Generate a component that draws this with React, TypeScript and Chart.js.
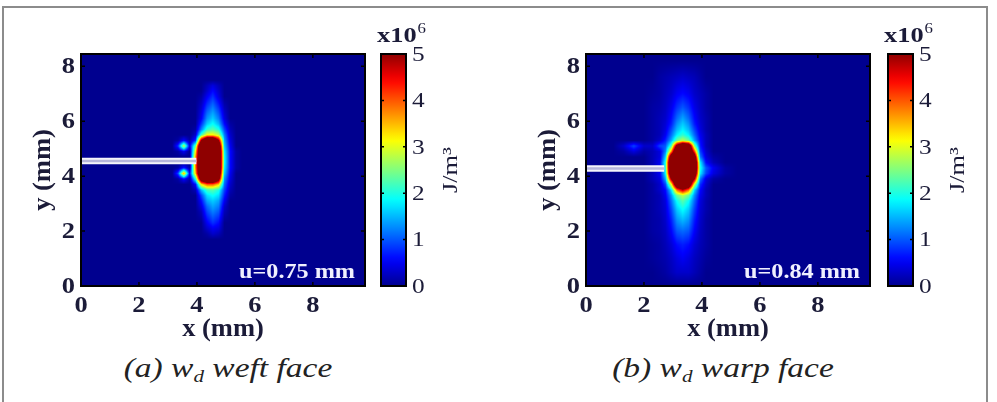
import React, { useEffect, useRef } from "react";
import { Chart, registerables } from "chart.js";

Chart.register(...registerables);

const SERIF = "'Liberation Serif', 'Times New Roman', serif";
const INK = "#1b1b38";

// Axis extents (mm) and tick values
const X_MAX = 9.8;
const Y_MAX = 8.45;
const xTicks = [0, 2, 4, 6, 8];
const yTicks = [0, 2, 4, 6, 8];
const xTitle = "x (mm)";
const yTitle = "y (mm)";
// Colour bar, in units of 1e6 J/m^3
const CBAR_MAX = 5;
const cbarTicks = [0, 1, 2, 3, 4, 5];
const cbarUnit = "J/m\u00b3";

// ---- (a) weft face: damage energy density w_d (x1e6 J/m^3) on a local grid ----
const weftGridX = [3.35, 3.55, 3.75, 3.95, 4.15, 4.35, 4.55, 4.75, 4.95, 5.15, 5.35, 5.55];
const weftGridY = [7.3, 7.1, 6.9, 6.7, 6.5, 6.3, 6.1, 5.9, 5.7, 5.5, 5.3, 5.1, 4.9, 4.7, 4.5, 4.3, 4.1, 3.9, 3.7, 3.5, 3.3, 3.1, 2.9, 2.7, 2.5, 2.3, 2.1, 1.9];
const weftEnergy = [
  [0, 0, 0, 0, 0, 0.2, 0.4, 0.2, 0, 0, 0, 0],
  [0, 0, 0, 0, 0, 0.3, 0.6, 0.3, 0, 0, 0, 0],
  [0, 0, 0, 0, 0.1, 0.5, 0.8, 0.4, 0, 0, 0, 0],
  [0, 0, 0, 0, 0.2, 0.7, 1.0, 0.6, 0.1, 0, 0, 0],
  [0, 0, 0, 0, 0.3, 0.9, 1.2, 0.8, 0.2, 0, 0, 0],
  [0, 0, 0, 0, 0.4, 1.1, 1.4, 1.0, 0.3, 0, 0, 0],
  [0, 0, 0, 0, 0.5, 1.3, 1.6, 1.2, 0.4, 0, 0, 0],
  [0, 0, 0, 0, 0.8, 1.6, 1.9, 1.5, 0.6, 0.1, 0, 0],
  [0, 0, 0, 0.1, 1.2, 2.1, 2.3, 2.0, 0.9, 0.2, 0, 0],
  [0, 0, 0, 0.3, 2.2, 3.2, 3.2, 2.8, 1.2, 0.3, 0, 0],
  [0.1, 0.6, 0.1, 0.8, 5.0, 7, 7, 5.0, 1.4, 0.4, 0, 0],
  [0.8, 2.9, 0.4, 2.4, 7, 7, 7, 6.5, 1.6, 0.5, 0, 0],
  [0.1, 0.5, 0, 3.2, 7, 7, 7, 7, 1.8, 0.6, 0.1, 0],
  [0, 0, 0, 3.6, 7, 7, 7, 7, 1.9, 0.6, 0.1, 0],
  [0, 0, 0, 3.8, 7, 7, 7, 7, 1.9, 0.6, 0.1, 0],
  [0.1, 0.7, 0.1, 3.7, 7, 7, 7, 7, 1.8, 0.6, 0.1, 0],
  [0.9, 3.6, 0.5, 3.4, 7, 7, 7, 6.5, 1.6, 0.5, 0, 0],
  [0.1, 0.6, 0.1, 2.0, 6.0, 7, 7, 5.5, 1.3, 0.4, 0, 0],
  [0, 0, 0, 0.6, 3.2, 4.0, 4.0, 3.4, 1.1, 0.3, 0, 0],
  [0, 0, 0, 0.2, 1.5, 2.2, 2.3, 2.0, 0.9, 0.2, 0, 0],
  [0, 0, 0, 0, 0.9, 1.7, 1.9, 1.7, 0.7, 0.1, 0, 0],
  [0, 0, 0, 0, 0.6, 1.4, 1.6, 1.4, 0.5, 0, 0, 0],
  [0, 0, 0, 0, 0.4, 1.1, 1.4, 1.2, 0.3, 0, 0, 0],
  [0, 0, 0, 0, 0.2, 0.9, 1.2, 1.0, 0.2, 0, 0, 0],
  [0, 0, 0, 0, 0.1, 0.7, 1.0, 0.8, 0.1, 0, 0, 0],
  [0, 0, 0, 0, 0, 0.5, 0.8, 0.6, 0, 0, 0, 0],
  [0, 0, 0, 0, 0, 0.3, 0.5, 0.4, 0, 0, 0, 0],
  [0, 0, 0, 0, 0, 0.1, 0.3, 0.2, 0, 0, 0, 0],
];
const weftCrackX = [0, 3.98];
const weftCrackY = [4.55, 4.55];
const weftDisplacement = "u=0.75 mm";

// ---- (b) warp face ----
const warpGridX = [1.3, 1.65, 2.0, 2.3, 2.55, 2.74, 2.94, 3.14, 3.34, 3.54, 3.74, 3.94, 4.14, 4.4, 4.8];
const warpGridY = [7.6, 7.0, 6.5, 6.1, 5.9, 5.7, 5.5, 5.3, 5.1, 4.9, 4.7, 4.5, 4.3, 4.1, 3.9, 3.7, 3.5, 3.3, 3.1, 2.8, 2.4, 2.0, 1.5, 1.0, 0.5];
const warpEnergy = [
  [0, 0, 0, 0, 0.1, 0.15, 0.2, 0.25, 0.3, 0.25, 0.2, 0.1, 0, 0, 0],
  [0, 0, 0, 0.05, 0.1, 0.2, 0.3, 0.5, 0.6, 0.5, 0.3, 0.2, 0.1, 0, 0],
  [0, 0, 0, 0.1, 0.15, 0.25, 0.45, 0.8, 1.0, 0.8, 0.45, 0.25, 0.1, 0, 0],
  [0, 0, 0, 0.1, 0.2, 0.3, 0.6, 1.1, 1.4, 1.1, 0.6, 0.3, 0.15, 0, 0],
  [0, 0, 0, 0.1, 0.2, 0.35, 0.7, 1.3, 1.6, 1.3, 0.7, 0.35, 0.15, 0, 0],
  [0, 0, 0, 0.1, 0.2, 0.4, 0.9, 1.5, 1.8, 1.5, 0.9, 0.4, 0.15, 0, 0],
  [0, 0, 0, 0.1, 0.2, 0.5, 1.1, 1.8, 2.1, 1.8, 1.1, 0.5, 0.2, 0, 0],
  [0, 0, 0, 0.1, 0.3, 0.7, 1.4, 2.4, 2.8, 2.4, 1.4, 0.6, 0.2, 0, 0],
  [0.3, 0.9, 0.3, 0.3, 0.9, 1.0, 2.2, 5.5, 7, 6.5, 2.6, 0.7, 0.2, 0, 0],
  [0.1, 0.4, 0.1, 0.2, 0.4, 1.2, 3.6, 7, 7, 7, 4.2, 0.9, 0.3, 0, 0],
  [0, 0, 0, 0.2, 0.4, 1.6, 6, 7, 7, 7, 6, 1.2, 0.4, 0.1, 0],
  [0, 0, 0, 0.2, 0.5, 2.0, 7, 7, 7, 7, 7, 1.8, 0.6, 0.2, 0],
  [0, 0, 0, 0.2, 0.5, 2.0, 7, 7, 7, 7, 7, 2.0, 1.0, 0.5, 0.1],
  [0, 0, 0, 0.2, 0.5, 1.8, 6.5, 7, 7, 7, 6.5, 1.8, 0.9, 0.4, 0.1],
  [0, 0, 0, 0.2, 0.4, 1.4, 5, 7, 7, 7, 5, 1.2, 0.4, 0.1, 0],
  [0, 0, 0, 0.1, 0.3, 0.9, 3.0, 6.5, 7, 6.5, 3.0, 0.8, 0.3, 0, 0],
  [0, 0, 0, 0.1, 0.3, 0.6, 1.7, 3.9, 4.8, 3.9, 1.7, 0.6, 0.2, 0, 0],
  [0, 0, 0, 0.1, 0.2, 0.5, 1.3, 2.4, 2.8, 2.4, 1.3, 0.5, 0.2, 0, 0],
  [0, 0, 0, 0.1, 0.2, 0.4, 1.1, 1.9, 2.3, 1.9, 1.1, 0.4, 0.15, 0, 0],
  [0, 0, 0, 0.1, 0.2, 0.35, 0.9, 1.6, 1.9, 1.6, 0.9, 0.35, 0.15, 0, 0],
  [0, 0, 0, 0.1, 0.15, 0.3, 0.7, 1.3, 1.5, 1.3, 0.7, 0.3, 0.1, 0, 0],
  [0, 0, 0, 0.1, 0.15, 0.25, 0.55, 1.0, 1.1, 1.0, 0.55, 0.25, 0.1, 0, 0],
  [0, 0, 0, 0.05, 0.1, 0.2, 0.35, 0.6, 0.7, 0.6, 0.35, 0.2, 0.1, 0, 0],
  [0, 0, 0, 0.05, 0.1, 0.15, 0.25, 0.4, 0.5, 0.4, 0.25, 0.15, 0.05, 0, 0],
  [0, 0, 0, 0, 0.05, 0.1, 0.2, 0.3, 0.3, 0.3, 0.2, 0.1, 0, 0, 0],
];
const warpCrackX = [0, 2.7];
const warpCrackY = [4.28, 4.28];
const warpDisplacement = "u=0.84 mm";

type Field = { xs: number[]; ys: number[]; values: number[][] };

// MATLAB-style jet colormap, t in [0, 1]
function jet(t: number): [number, number, number] {
  const s = 0.0156 + Math.min(1, Math.max(0, t)) * 0.969;
  const c = (k: number) =>
    Math.round(255 * Math.min(1, Math.max(0, 1.5 - Math.abs(4 * s - k))));
  return [c(3), c(2), c(1)];
}

// Grid axis with one zero-valued node added on each side
function padAxis(a: number[]): number[] {
  const n = a.length;
  return [a[0] - (a[1] - a[0]), ...a, a[n - 1] + (a[n - 1] - a[n - 2])];
}

function locate(a: number[], v: number): [number, number] | null {
  for (let i = 0; i < a.length - 1; i++) {
    const lo = Math.min(a[i], a[i + 1]);
    const hi = Math.max(a[i], a[i + 1]);
    if (v >= lo && v <= hi) return [i, (v - a[i]) / (a[i + 1] - a[i])];
  }
  return null;
}

// Text drawn with a slight horizontal stretch
function stretchText(
  ctx: CanvasRenderingContext2D,
  text: string,
  x: number,
  y: number,
  font: string,
  align: CanvasTextAlign,
  baseline: CanvasTextBaseline,
  sx: number,
  rotate = 0
) {
  ctx.save();
  ctx.translate(x, y);
  if (rotate) ctx.rotate(rotate);
  ctx.scale(sx, 1);
  ctx.font = font;
  ctx.textAlign = align;
  ctx.textBaseline = baseline;
  ctx.fillText(text, 0, 0);
  ctx.restore();
}

// Draws the field with interpolated shading inside the plot area
function makeHeatPlugin(field: Field) {
  return {
    id: "heat",
    beforeDatasetsDraw(chart: any) {
      const { ctx, chartArea, scales } = chart;
      const xs = padAxis(field.xs);
      const ys = padAxis(field.ys);
      const zeroRow = new Array(xs.length).fill(0);
      const grid = [zeroRow, ...field.values.map((r) => [0, ...r, 0]), zeroRow];
      const x0 = Math.round(chartArea.left);
      const y0 = Math.round(chartArea.top);
      const w = Math.round(chartArea.right) - x0;
      const h = Math.round(chartArea.bottom) - y0;
      const img = ctx.createImageData(w, h);
      const cols = [];
      for (let i = 0; i < w; i++) cols.push(locate(xs, scales.x.getValueForPixel(x0 + i + 0.5)));
      for (let j = 0; j < h; j++) {
        const r = locate(ys, scales.y.getValueForPixel(y0 + j + 0.5));
        for (let i = 0; i < w; i++) {
          const c = cols[i];
          let v = 0;
          if (r && c) {
            const [ri, rf] = r;
            const [ci, cf] = c;
            const a = grid[ri][ci] * (1 - cf) + grid[ri][ci + 1] * cf;
            const b = grid[ri + 1][ci] * (1 - cf) + grid[ri + 1][ci + 1] * cf;
            v = a * (1 - rf) + b * rf;
          }
          const [R, G, B] = jet(v / CBAR_MAX);
          const k = (j * w + i) * 4;
          img.data[k] = R;
          img.data[k + 1] = G;
          img.data[k + 2] = B;
          img.data[k + 3] = 255;
        }
      }
      const off = document.createElement("canvas");
      off.width = w;
      off.height = h;
      off.getContext("2d")!.putImageData(img, 0, 0);
      ctx.drawImage(off, x0, y0);
    },
  };
}

const TICK_FONT = `bold 23px ${SERIF}`;
const TITLE_FONT = `bold 26px ${SERIF}`;

// Plot frame, inward ticks, axis labels and the displacement note
function makeFramePlugin(note: string) {
  return {
    id: "frame",
    afterDatasetsDraw(chart: any) {
      const { ctx, chartArea: a, scales } = chart;
      ctx.save();
      ctx.fillStyle = "#f0f0ff";
      stretchText(ctx, note, a.right - 10, a.bottom - 8, `bold 22px ${SERIF}`, "right", "alphabetic", 1.1);
      ctx.strokeStyle = "#000";
      ctx.lineWidth = 1.5;
      ctx.beginPath();
      for (const v of xTicks) {
        const p = scales.x.getPixelForValue(v);
        ctx.moveTo(p, a.bottom);
        ctx.lineTo(p, a.bottom - 4);
        ctx.moveTo(p, a.top);
        ctx.lineTo(p, a.top + 4);
      }
      for (const v of yTicks) {
        const p = scales.y.getPixelForValue(v);
        ctx.moveTo(a.left, p);
        ctx.lineTo(a.left + 4, p);
        ctx.moveTo(a.right, p);
        ctx.lineTo(a.right - 4, p);
      }
      ctx.stroke();
      ctx.lineWidth = 2;
      ctx.strokeRect(a.left, a.top, a.right - a.left, a.bottom - a.top);
      ctx.restore();
    },
    afterDraw(chart: any) {
      const { ctx, chartArea: a, scales } = chart;
      ctx.save();
      ctx.fillStyle = INK;
      for (const v of xTicks) {
        stretchText(ctx, String(v), scales.x.getPixelForValue(v), a.bottom + 26, TICK_FONT, "center", "alphabetic", 1.15);
      }
      for (const v of yTicks) {
        stretchText(ctx, String(v), a.left - 6, scales.y.getPixelForValue(v) + 1, TICK_FONT, "right", "middle", 1.15);
      }
      stretchText(ctx, xTitle, (a.left + a.right) / 2, a.bottom + 50, TITLE_FONT, "center", "alphabetic", 1.02);
      stretchText(ctx, yTitle, a.left - 38, (a.top + a.bottom) / 2, TITLE_FONT, "center", "middle", 1.02, -Math.PI / 2);
      ctx.restore();
    },
  };
}

const cbarPlugin = {
  id: "cbarFrame",
  afterDatasetsDraw(chart: any) {
    const { ctx, chartArea: a, scales } = chart;
    ctx.save();
    ctx.strokeStyle = "#000";
    ctx.lineWidth = 1.5;
    ctx.beginPath();
    for (const v of cbarTicks.slice(1, -1)) {
      const p = scales.y.getPixelForValue(v);
      ctx.moveTo(a.left, p);
      ctx.lineTo(a.left + 3, p);
      ctx.moveTo(a.right, p);
      ctx.lineTo(a.right - 3, p);
    }
    ctx.stroke();
    ctx.lineWidth = 2;
    ctx.strokeRect(a.left, a.top, a.right - a.left, a.bottom - a.top);
    ctx.restore();
  },
  afterDraw(chart: any) {
    const { ctx, chartArea: a, scales } = chart;
    ctx.save();
    ctx.fillStyle = INK;
    for (const v of cbarTicks) {
      stretchText(ctx, String(v), a.right + 6, scales.y.getPixelForValue(v) + 1, `22px ${SERIF}`, "left", "middle", 1.15);
    }
    // scale factor above the bar
    const f = `bold 22px ${SERIF}`;
    ctx.font = f;
    const wx = ctx.measureText("x10").width * 1.2;
    stretchText(ctx, "x10", a.left - 4, a.top - 12, f, "left", "alphabetic", 1.2);
    stretchText(ctx, "6", a.left - 4 + wx + 1, a.top - 21, `14px ${SERIF}`, "left", "alphabetic", 1.2);
    // unit label, reading upwards
    stretchText(ctx, cbarUnit, a.right + 45, (a.top + a.bottom) / 2, `22px ${SERIF}`, "center", "middle", 1.2, -Math.PI / 2);
    ctx.restore();
  },
};

type PanelProps = {
  plotLeft: number;
  cbarLeft: number;
  captionX: number;
  field: Field;
  crackX: number[];
  crackY: number[];
  note: string;
  tag: string;
  face: string;
};

function Panel(p: PanelProps) {
  const mainRef = useRef<HTMLCanvasElement>(null);
  const barRef = useRef<HTMLCanvasElement>(null);

  useEffect(() => {
    const crack = p.crackX.map((x, i) => ({ x, y: p.crackY[i] }));
    const main = new Chart(mainRef.current!, {
      type: "scatter",
      data: {
        datasets: [
          { data: crack, order: 1, showLine: true, borderColor: "#b6b6dc", borderWidth: 2.5, pointRadius: 0, borderCapStyle: "butt" },
          { data: crack, order: 2, showLine: true, borderColor: "#f4f4fb", borderWidth: 6.5, pointRadius: 0, borderCapStyle: "butt" },
        ],
      },
      options: {
        responsive: false,
        animation: false,
        devicePixelRatio: 1,
        events: [],
        layout: { padding: { left: 0, top: 14, right: 15, bottom: 0 } },
        plugins: { legend: { display: false }, tooltip: { enabled: false } },
        scales: {
          x: {
            type: "linear",
            min: 0,
            max: X_MAX,
            afterBuildTicks: (s: any) => {
              s.ticks = xTicks.map((value) => ({ value }));
            },
            ticks: { display: false },
            grid: { display: false, drawTicks: false },
            border: { display: false },
            afterFit: (s: any) => {
              s.height = 64;
            },
          },
          y: {
            type: "linear",
            min: 0,
            max: Y_MAX,
            afterBuildTicks: (s: any) => {
              s.ticks = yTicks.map((value) => ({ value }));
            },
            ticks: { display: false },
            grid: { display: false, drawTicks: false },
            border: { display: false },
            afterFit: (s: any) => {
              s.width = 61;
            },
          },
        },
      },
      plugins: [makeHeatPlugin(p.field), makeFramePlugin(p.note)],
    } as any);

    const stops = Array.from({ length: 33 }, (_, i) => i / 32);
    const bar = new Chart(barRef.current!, {
      type: "bar",
      data: {
        labels: [""],
        datasets: [
          {
            data: [[0, CBAR_MAX]],
            barPercentage: 1,
            categoryPercentage: 1,
            borderWidth: 0,
            backgroundColor: (c: any) => {
              const a = c.chart.chartArea;
              if (!a) return "#00008f";
              const g = c.chart.ctx.createLinearGradient(0, a.bottom, 0, a.top);
              for (const t of stops) {
                const [r, gg, b] = jet(t);
                g.addColorStop(t, `rgb(${r},${gg},${b})`);
              }
              return g;
            },
          },
        ],
      },
      options: {
        responsive: false,
        animation: false,
        devicePixelRatio: 1,
        events: [],
        layout: { padding: { left: 10, top: 34, right: 0, bottom: 14 } },
        plugins: { legend: { display: false }, tooltip: { enabled: false } },
        scales: {
          x: { display: false },
          y: {
            position: "right",
            min: 0,
            max: CBAR_MAX,
            afterBuildTicks: (s: any) => {
              s.ticks = cbarTicks.map((value) => ({ value }));
            },
            ticks: { display: false },
            grid: { display: false, drawTicks: false },
            border: { display: false },
            afterFit: (s: any) => {
              s.width = 65;
            },
          },
        },
      },
      plugins: [cbarPlugin],
    } as any);

    return () => {
      main.destroy();
      bar.destroy();
    };
  }, []);

  return (
    <>
      <canvas
        ref={mainRef}
        width={360}
        height={310}
        style={{ position: "absolute", left: p.plotLeft - 61, top: 40, width: 360, height: 310 }}
      />
      <canvas
        ref={barRef}
        width={100}
        height={280}
        style={{ position: "absolute", left: p.cbarLeft - 10, top: 20, width: 100, height: 280 }}
      />
      <div
        style={{
          position: "absolute",
          left: p.captionX - 160,
          width: 320,
          top: 353,
          textAlign: "center",
          font: `italic 27px ${SERIF}`,
          lineHeight: "30px",
          color: "#222",
          whiteSpace: "nowrap",
          transform: "scaleX(1.24)",
          transformOrigin: "50% 50%",
        }}
      >
        {p.tag} w
        <span style={{ fontSize: 17, position: "relative", top: 5 }}>d</span> {p.face}
      </div>
    </>
  );
}

export default function App() {
  return (
    <div
      style={{
        position: "fixed",
        left: 0,
        top: 0,
        width: 997,
        height: 402,
        background: "#fff",
        overflow: "hidden",
      }}
    >
      <div
        style={{
          position: "absolute",
          left: 2,
          top: 6,
          width: 982,
          height: 420,
          border: "2px solid #8c8c8c",
        }}
      />
      <Panel
        plotLeft={81}
        cbarLeft={381}
        captionX={228}
        field={{ xs: weftGridX, ys: weftGridY, values: weftEnergy }}
        crackX={weftCrackX}
        crackY={weftCrackY}
        note={weftDisplacement}
        tag="(a)"
        face="weft face"
      />
      <Panel
        plotLeft={586}
        cbarLeft={888}
        captionX={723}
        field={{ xs: warpGridX, ys: warpGridY, values: warpEnergy }}
        crackX={warpCrackX}
        crackY={warpCrackY}
        note={warpDisplacement}
        tag="(b)"
        face="warp face"
      />
    </div>
  );
}
